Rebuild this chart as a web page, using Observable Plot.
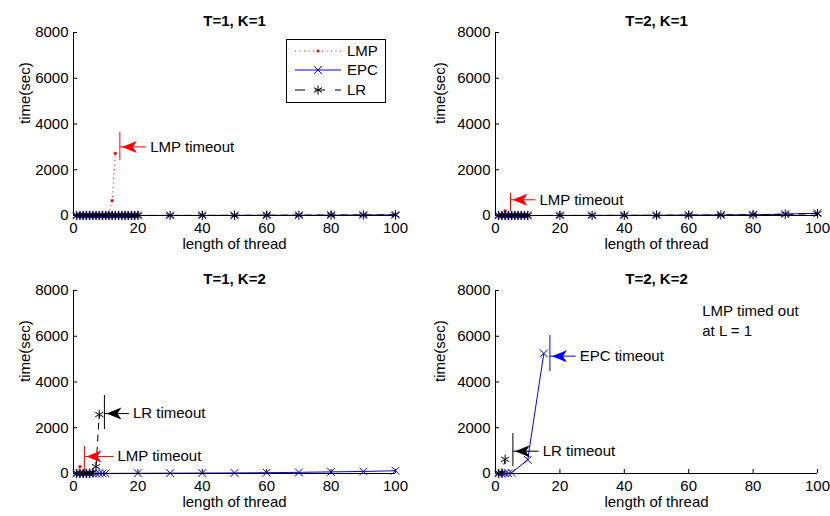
<!DOCTYPE html>
<html><head><meta charset="utf-8">
<script src="https://cdn.jsdelivr.net/npm/d3@7"></script>
<script src="https://cdn.jsdelivr.net/npm/@observablehq/plot@0.6"></script>
<style>
body{margin:0;background:#fff;}
#chart{position:relative;width:830px;height:516px;background:#fff;font-family:"Liberation Sans",Arial,sans-serif;overflow:hidden;}
.panel{position:absolute;width:415px;height:258px;}
.legend{position:absolute;}
</style></head><body><div id="chart"></div>
<script>
// ---------- data ----------
const panelTitles = ["T=1, K=1", "T=2, K=1", "T=1, K=2", "T=2, K=2"];
const xTicks = [0, 20, 40, 60, 80, 100];
const yTicks = [0, 2000, 4000, 6000, 8000];
const seriesNames = ["LMP", "EPC", "LR"];

// T=1, K=1
const p1_LMP_x = [1,2,3,4,5,6,7,8,9,10,11,12,13];
const p1_LMP_y = [0,0,0,0,1,1,2,3,5,10,100,650,2720];
const p1_EPC_x = [1,2,3,4,5,6,7,8,9,10,11,12,13,14,15,16,17,18,19,20,30,40,50,60,70,80,90,100];
const p1_EPC_y = [0,0,0,0,0,0,0,0,0,0,1,1,1,1,1,1,2,2,2,2,3,5,7,10,13,17,22,28];
const p1_LR_x  = [1,2,3,4,5,6,7,8,9,10,11,12,13,14,15,16,17,18,19,20,30,40,50,60,70,80,90,100];
const p1_LR_y  = [0,0,0,0,0,0,0,0,0,0,1,1,1,1,1,2,2,2,2,3,4,6,8,11,14,18,23,30];

// T=2, K=1
const p2_LMP_x = [1,2,3];
const p2_LMP_y = [0,10,200];
const p2_EPC_x = [1,2,3,4,5,6,7,8,9,10,20,30,40,50,60,70,80,90,100];
const p2_EPC_y = [0,0,0,0,0,0,1,1,1,1,3,5,8,12,18,25,35,60,100];
const p2_LR_x  = [1,2,3,4,5,6,7,8,9,10,20,30,40,50,60,70,80,90,100];
const p2_LR_y  = [0,0,0,0,0,0,1,1,1,1,3,5,8,12,17,24,33,55,80];

// T=1, K=2
const p3_LMP_x = [1,2];
const p3_LMP_y = [0,300];
const p3_EPC_x = [1,2,3,4,5,6,7,8,9,10,20,30,40,50,60,70,80,90,100];
const p3_EPC_y = [0,0,0,1,1,2,2,3,4,5,10,15,20,25,35,50,70,90,120];
const p3_LR_x  = [1,2,3,4,5,6,7,8];
const p3_LR_y  = [0,0,0,5,10,40,300,2580];

// T=2, K=2
const p4_LMP_x = [];
const p4_LMP_y = [];
const p4_EPC_x = [1,2,3,4,5,10,15];
const p4_EPC_y = [0,0,5,10,30,600,5250];
const p4_LR_x  = [1,2,3];
const p4_LR_y  = [0,20,620];

// timeout annotations (data coordinates)
const annotations = [
  {panel: 0, series: "LMP", x: 14.4, y: 3000, y1: 2400, y2: 3640, tx: 22.6, label: "LMP timeout"},
  {panel: 1, series: "LMP", x: 4.66, y: 686,  y1: 188,  y2: 975,  tx: 12.4, label: "LMP timeout"},
  {panel: 2, series: "LMP", x: 3.4,  y: 740,  y1: 87,   y2: 1180, tx: 12.4, label: "LMP timeout"},
  {panel: 2, series: "LR",  x: 9.6,  y: 2620, y1: 1923, y2: 3409, tx: 17.2, label: "LR timeout"},
  {panel: 3, series: "LR",  x: 5.4,  y: 975,  y1: 306,  y2: 1748, tx: 13.4, label: "LR timeout"},
  {panel: 3, series: "EPC", x: 16.9, y: 5130, y1: 4458, y2: 6031, tx: 24.9, label: "EPC timeout"}
];
const notes = [
  {panel: 3, x: 64.2, y: 6713, text: "LMP timed out\nat L = 1"}
];

// ---------- build ----------
const raw = [
  [[p1_LMP_x,p1_LMP_y],[p1_EPC_x,p1_EPC_y],[p1_LR_x,p1_LR_y]],
  [[p2_LMP_x,p2_LMP_y],[p2_EPC_x,p2_EPC_y],[p2_LR_x,p2_LR_y]],
  [[p3_LMP_x,p3_LMP_y],[p3_EPC_x,p3_EPC_y],[p3_LR_x,p3_LR_y]],
  [[p4_LMP_x,p4_LMP_y],[p4_EPC_x,p4_EPC_y],[p4_LR_x,p4_LR_y]]
];
const colors = {LMP: "#ff0000", EPC: "#0000ff", LR: "#000000"};
const dashes = {LMP: "1,3.5", EPC: null, LR: "7,5"};
const FONT = "Liberation Sans, Arial, Helvetica, sans-serif";

const arrowHead = {
  draw(ctx) {
    ctx.moveTo(0, 0);
    ctx.lineTo(15, -6);
    ctx.lineTo(11, 0);
    ctx.lineTo(15, 6);
    ctx.closePath();
  }
};

const positions = [[0,0],[415,0],[0,258],[415,258]];
const chart = document.getElementById("chart");

function seriesMarks(rows, name) {
  const marks = [];
  if (!rows.length) return marks;
  marks.push(Plot.line(rows, {x: "x", y: "y", stroke: colors[name], strokeWidth: 1,
    strokeDasharray: dashes[name], strokeLinecap: "butt"}));
  if (name === "LMP") {
    marks.push(Plot.dot(rows, {x: "x", y: "y", r: 1.6, fill: colors[name], stroke: "none"}));
  } else if (name === "EPC") {
    marks.push(Plot.dot(rows, {x: "x", y: "y", r: 3.6, symbol: "times", stroke: colors[name], strokeWidth: 1}));
  } else {
    marks.push(Plot.dot(rows, {x: "x", y: "y", r: 4.4, symbol: "asterisk", stroke: colors[name], strokeWidth: 1}));
  }
  return marks;
}

raw.forEach((panel, pi) => {
  const ml = pi % 2 === 0 ? 73 : 80;
  const mr = pi % 2 === 0 ? 20 : 13;
  const ann = annotations.filter(a => a.panel === pi);
  const nts = notes.filter(n => n.panel === pi);
  const marks = [];
  panel.forEach(([xs, ys], si) => {
    const rows = xs.map((x, i) => ({x, y: ys[i]}));
    marks.push(...seriesMarks(rows, seriesNames[si]));
  });
  marks.push(
    Plot.ruleX([0], {stroke: "black", strokeWidth: 1}),
    Plot.ruleY([0], {stroke: "black", strokeWidth: 1}),
    Plot.axisX({ticks: xTicks, tickSize: -4, tickPadding: 11, tickFormat: d => String(d), label: null, stroke: "black"}),
    Plot.axisY({ticks: yTicks, tickSize: -4, tickPadding: 9, tickFormat: d => String(d), label: null, stroke: "black"}),
    Plot.text([panelTitles[pi]], {text: d => d, frameAnchor: "top", dy: -17, fontWeight: "bold", fontSize: 15, fill: "black"}),
    Plot.text(["length of thread"], {text: d => d, frameAnchor: "bottom", dy: 33, fill: "black"}),
    Plot.text(["time(sec)"], {text: d => d, frameAnchor: "left", dx: -(ml - 25), rotate: -90, fill: "black"}),
    Plot.ruleX(ann, {x: "x", y1: "y1", y2: "y2", stroke: a => colors[a.series], strokeWidth: 1}),
    Plot.link(ann, {x1: "x", x2: "tx", y1: "y", y2: "y", stroke: a => colors[a.series], strokeWidth: 1}),
    Plot.dot(ann, {x: "x", y: "y", symbol: arrowHead, fill: a => colors[a.series], stroke: "none", dx: 2}),
    Plot.text(ann, {x: "tx", y: "y", text: "label", textAnchor: "start", dx: 4, fill: "black"}),
    Plot.text(nts, {x: "x", y: "y", text: "text", textAnchor: "start", lineHeight: 1.3, fill: "black"})
  );
  const svg = Plot.plot({
    width: 415, height: 258,
    marginLeft: ml, marginRight: mr, marginTop: 32, marginBottom: 43,
    x: {domain: [0, 100]},
    y: {domain: [0, 8000]},
    color: {type: "identity"},
    style: {fontFamily: FONT, fontSize: "15px", color: "black", background: "transparent", overflow: "visible"},
    marks
  });
  const div = document.createElement("div");
  div.className = "panel";
  div.style.left = positions[pi][0] + "px";
  div.style.top = positions[pi][1] + "px";
  div.appendChild(svg);
  chart.appendChild(div);
});

// ---------- legend (first panel) ----------
const legendRows = [
  {name: "LMP", yy: 13},
  {name: "EPC", yy: 32},
  {name: "LR", yy: 52}
];
const lg = d3.select(chart).append("svg")
  .attr("class", "legend")
  .attr("width", 102).attr("height", 66)
  .style("left", "285px").style("top", "38px")
  .style("font-family", FONT).style("font-size", "15px");
lg.append("rect").attr("x", 1.5).attr("y", 1.5).attr("width", 99).attr("height", 63)
  .attr("fill", "white").attr("stroke", "black").attr("stroke-width", 1);
legendRows.forEach(r => {
  const g = lg.append("g");
  g.append("line").attr("x1", 10).attr("x2", 56).attr("y1", r.yy).attr("y2", r.yy)
    .attr("stroke", colors[r.name]).attr("stroke-width", 1)
    .attr("stroke-dasharray", r.name === "LMP" ? "1,3.5" : r.name === "LR" ? "10,10" : null);
  if (r.name === "LMP") {
    g.append("circle").attr("cx", 33).attr("cy", r.yy).attr("r", 1.6).attr("fill", colors.LMP);
  } else {
    const sym = d3.symbol(r.name === "EPC" ? d3.symbolTimes : d3.symbolAsterisk,
      Math.PI * Math.pow(r.name === "EPC" ? 3.6 : 4.4, 2));
    g.append("path").attr("d", sym()).attr("transform", `translate(33,${r.yy})`)
      .attr("fill", "none").attr("stroke", colors[r.name]).attr("stroke-width", 1);
  }
  g.append("text").attr("x", 62).attr("y", r.yy).attr("dy", "0.35em").text(r.name);
});
</script>
</body></html>
